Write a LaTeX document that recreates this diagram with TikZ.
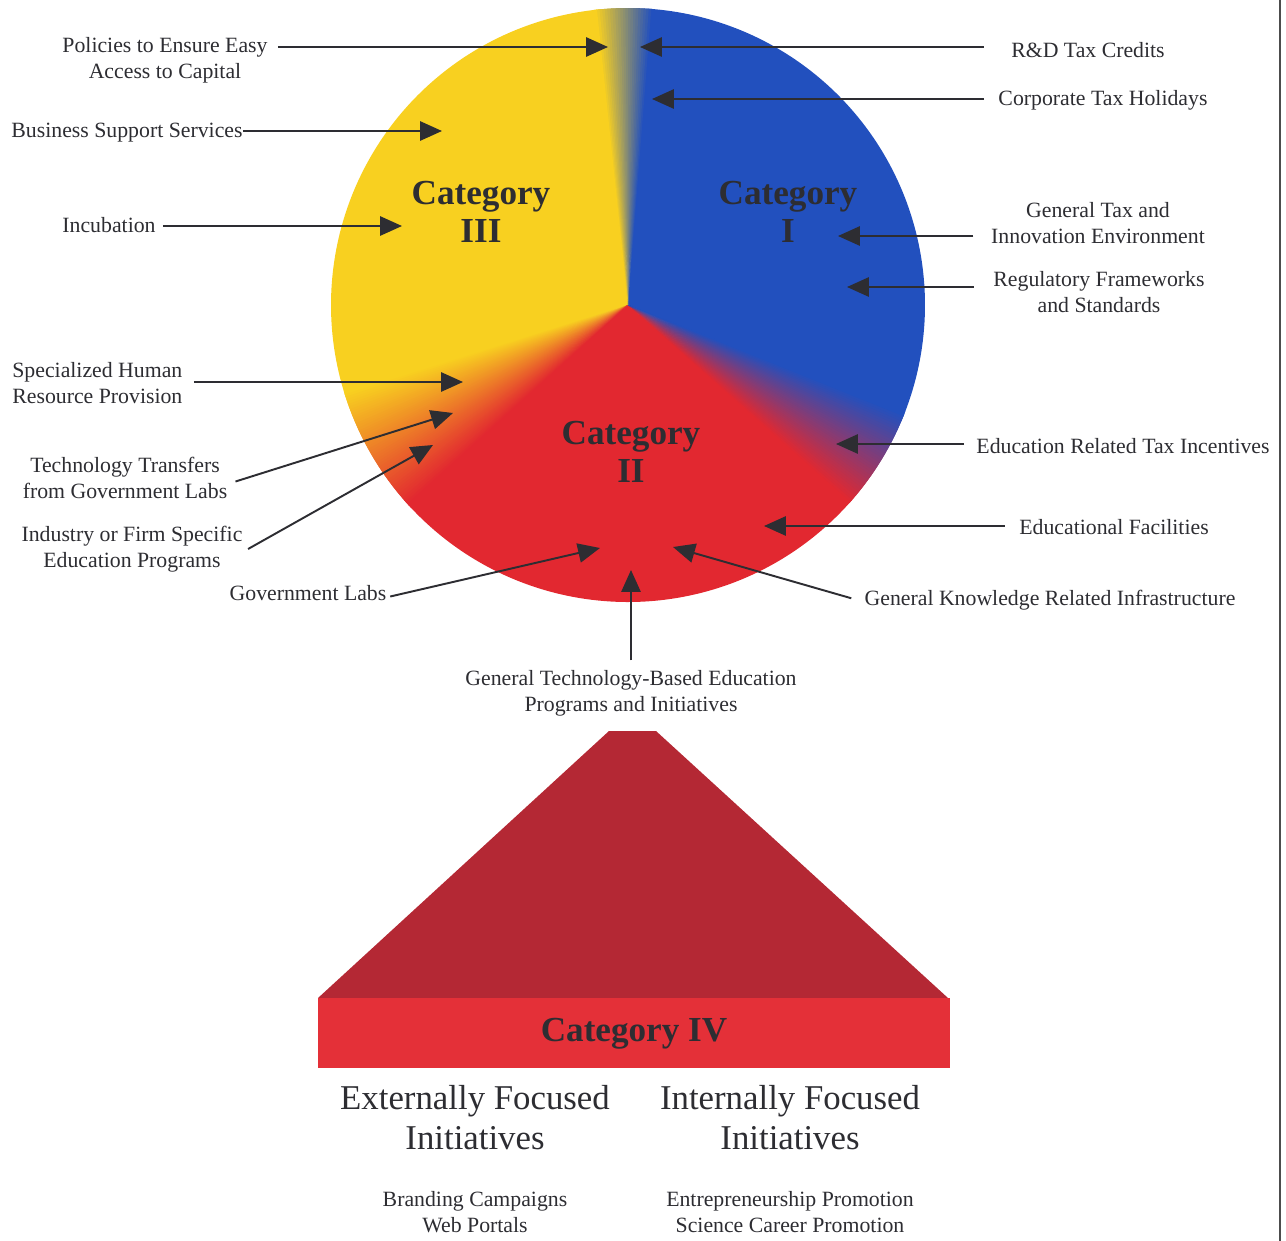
\documentclass[tikz,border=0pt]{standalone}
\usepackage{fontspec}
\setmainfont{Liberation Serif}
\usetikzlibrary{arrows.meta}

\definecolor{pieY}{RGB}{248,208,32}
\definecolor{pieB}{RGB}{34,80,190}
\definecolor{pieR}{RGB}{226,40,48}
\definecolor{pyrD}{RGB}{180,40,52}
\definecolor{pyrR}{RGB}{228,48,56}
\definecolor{ink}{RGB}{45,45,50}

\tikzset{
  lbl/.style={font=\fontsize{12.4}{14.6}\selectfont, text=ink, align=center, inner sep=0pt},
  big/.style={font=\fontsize{19.8}{22.7}\selectfont, text=ink, align=center, inner sep=0pt},
  cat/.style={font=\fontsize{20}{21.6}\selectfont\bfseries, text=ink, align=center, inner sep=0pt},
  arr/.style={draw=ink, line width=1.1pt, -{Triangle[length=12.5pt,width=11pt]}},
}

\begin{document}
\begin{tikzpicture}[x=0.02cm,y=0.02cm]
  \useasboundingbox (0,0) rectangle (1286,-1241);
  \coordinate (c) at (628,-305);

  % Torte
  \fill[pieB] (c) -- ++(-23:297) arc[start angle=-23, delta angle=109, radius=297] -- cycle;
  \fill[pieY] (c) -- ++(95:297) arc[start angle=95, delta angle=103, radius=297] -- cycle;
  \fill[pieR] (c) -- ++(221:297) arc[start angle=221, delta angle=98, radius=297] -- cycle;
  % Übergänge
  \foreach \i [evaluate=\i as \t using 85+\i*0.5, evaluate=\i as \p using int(100*\i/22)] in {0,...,22}
    \fill[pieY!\p!pieB] (c) -- ++(\t:297) arc[start angle=\t, delta angle=1, radius=297] -- cycle;
  \foreach \i [evaluate=\i as \t using 197+\i*0.5, evaluate=\i as \p using int(100*\i/50)] in {0,...,50}
    \fill[pieR!\p!pieY] (c) -- ++(\t:297) arc[start angle=\t, delta angle=1, radius=297] -- cycle;
  \foreach \i [evaluate=\i as \t using -42+\i*0.5, evaluate=\i as \p using int(100*\i/40)] in {0,...,40}
    \fill[pieB!\p!pieR] (c) -- ++(\t:297) arc[start angle=\t, delta angle=1, radius=297] -- cycle;

  % Pyramide
  \fill[pyrD] (318,-998) -- (609,-731) -- (656,-731) -- (948,-998) -- cycle;
  \fill[pyrR] (318,-998) rectangle (950,-1068);

  \draw[line width=1.6pt, draw=black!70] (1280,0) -- (1280,-1241);

  \node[cat] (c3) at (481,-212) {Category\\III};
  \node[cat] (c1) at (788,-212) {Category\\I};
  \node[cat] (c2) at (631,-452) {Category\\II};
  \node[cat] (c4) at (634,-1034) {Category IV};

  % links
  \node[lbl] (pol) at (165,-60) {Policies to Ensure Easy\\Access to Capital};
  \node[lbl] (bss) at (127,-133) {Business Support Services};
  \node[lbl] (inc) at (109,-225) {Incubation};
  \node[lbl, align=left, anchor=west] (shr) at (12,-383) {Specialized Human\\Resource Provision};
  \node[lbl] (ttr) at (125,-478) {Technology Transfers\\from Government Labs};
  \node[lbl] (ind) at (132,-549) {Industry or Firm Specific\\Education Programs};
  \node[lbl] (gl) at (308,-593) {Government Labs};
  \node[lbl] (gtb) at (631,-693) {General Technology-Based Education\\Programs and Initiatives};

  % rechts
  \node[lbl] (rd) at (1088,-50) {R\&D Tax Credits};
  \node[lbl] (corp) at (1103,-100) {Corporate Tax Holidays};
  \node[lbl] (gte) at (1098,-223) {General Tax and\\Innovation Environment};
  \node[lbl] (reg) at (1099,-292) {Regulatory Frameworks\\and Standards};
  \node[lbl] (ert) at (1123,-446) {Education Related Tax Incentives};
  \node[lbl] (edf) at (1114,-527) {Educational Facilities};
  \node[lbl] (gkr) at (1050,-600) {General Knowledge Related Infrastructure};

  \coordinate (polT) at (608,-47);
  \coordinate (rdT) at (640,-47);
  \coordinate (corpT) at (652,-99);
  \coordinate (bssT) at (442,-131);
  \coordinate (incT) at (402,-226);
  \coordinate (gteT) at (838,-236);
  \coordinate (regT) at (847,-287);
  \coordinate (shrT) at (463,-382);
  \coordinate (ttrT) at (453,-413);
  \coordinate (indT) at (433,-445);
  \coordinate (glT) at (600,-548);
  \coordinate (gtbT) at (631,-570);
  \coordinate (gkrT) at (673,-547);
  \coordinate (edfT) at (764,-526);
  \coordinate (ertT) at (836,-444);

  \draw[arr] ([xshift=5.7pt]pol.east |- polT) -- (polT);
  \draw[arr] ([xshift=-15.4pt]rd.west |- rdT) -- (rdT);
  \draw[arr] ([xshift=-8pt]corp.west |- corpT) -- (corpT);
  \draw[arr] (bss.east |- bssT) -- (bssT);
  \draw[arr] ([xshift=4pt]inc.east |- incT) -- (incT);
  \draw[arr] ([xshift=-10pt]gte.west |- gteT) -- (gteT);
  \draw[arr] ([xshift=-11pt]reg.west |- regT) -- (regT);
  \draw[arr] ([xshift=6.3pt]shr.east |- shrT) -- (shrT);
  \draw[arr] ([xshift=4.5pt,yshift=-2pt]ttr.east) -- (ttrT);
  \draw[arr] ([xshift=3pt]ind.east) -- (indT);
  \draw[arr] ([xshift=2pt,yshift=-2pt]gl.east) -- (glT);
  \draw[arr] ([yshift=5.5pt]gtb.north) -- (gtbT);
  \draw[arr] ([xshift=-7.4pt,yshift=1pt]gkr.west) -- (gkrT);
  \draw[arr] ([xshift=-8pt]edf.west |- edfT) -- (edfT);
  \draw[arr] ([xshift=-6.8pt]ert.west |- ertT) -- (ertT);

  % unten
  \node[big] (extf) at (475,-1118) {Externally Focused\\Initiatives};
  \node[big] (intf) at (790,-1118) {Internally Focused\\Initiatives};
  \node[lbl] (brd) at (475,-1212) {Branding Campaigns\\Web Portals};
  \node[lbl] (ent) at (790,-1212) {Entrepreneurship Promotion\\Science Career Promotion};
\end{tikzpicture}
\end{document}
